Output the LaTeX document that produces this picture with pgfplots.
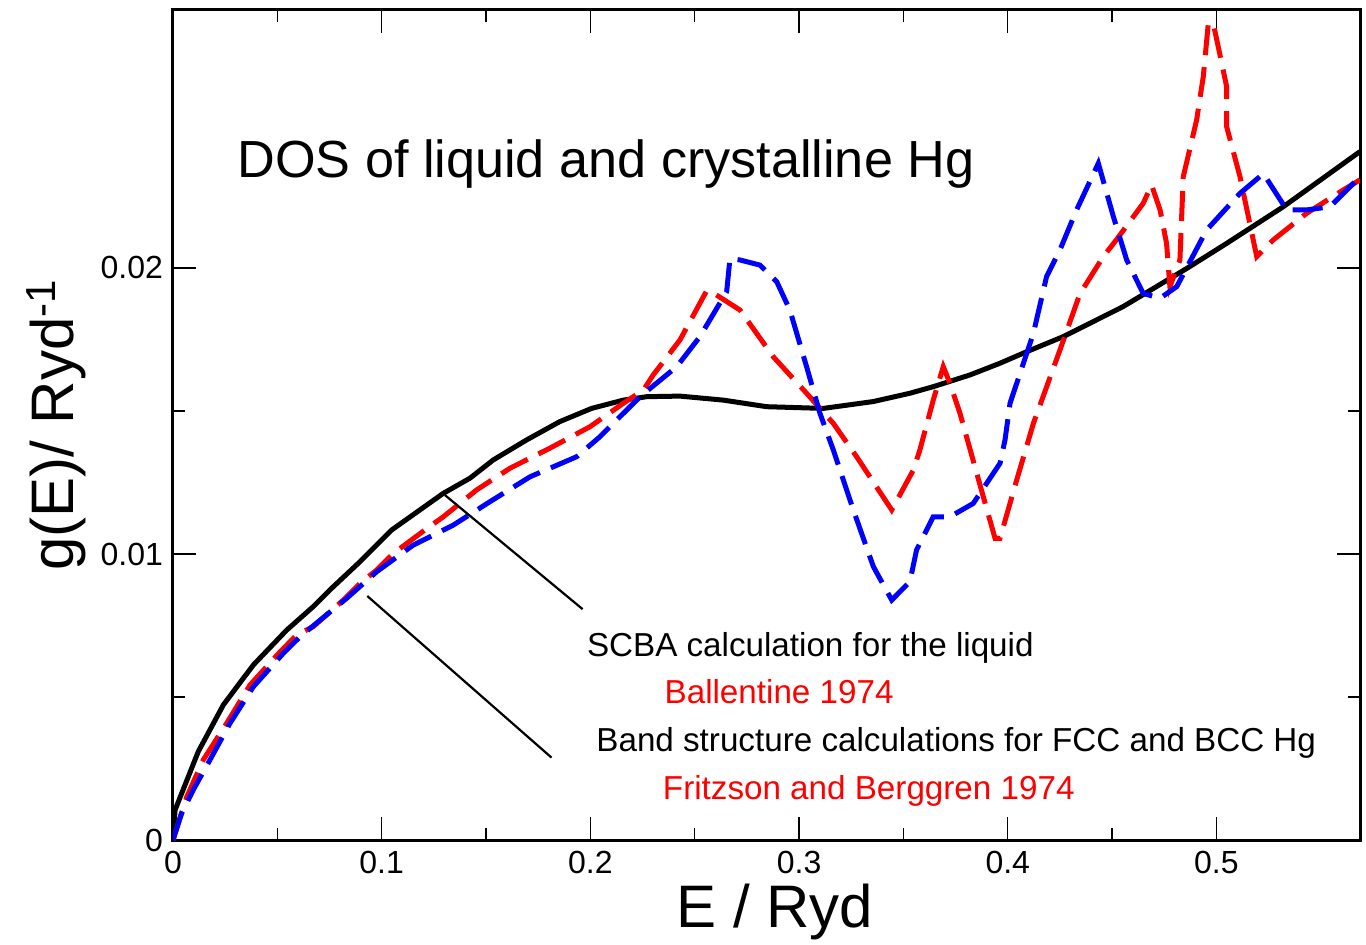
\documentclass[border=0pt]{standalone}
\usepackage{pgfplots}
\pgfplotsset{compat=1.18}
\usepackage{fontspec}
\setmainfont{Liberation Sans}

\begin{document}
\begin{tikzpicture}
  \begin{axis}[
    name=ax,
    scale only axis,
    width=593.5pt,
    height=415pt,
    xmin=0, xmax=0.5688,
    ymin=0, ymax=0.02902,
    xtick={0,0.1,0.2,0.3,0.4,0.5},
    xticklabels={0,0.1,0.2,0.3,0.4,0.5},
    ytick={0,0.01,0.02},
    yticklabels={0,0.01,0.02},
    minor x tick num=1,
    minor y tick num=1,
    tick align=inside,
    major tick length=11.5pt,
    minor tick length=6pt,
    every tick/.style={black, line width=0.7pt},
    axis line style={line width=1.5pt},
    tick label style={font=\fontsize{16}{19}\selectfont},
    xticklabel style={yshift=-2pt},
    yticklabel style={xshift=-1.5pt},
    xlabel={E / Ryd},
    ylabel={g(E)/ Ryd\textsuperscript{-1}},
    label style={font=\fontsize{30}{34}\selectfont},
    xlabel style={at={(axis description cs:0.507,-0.087)}, anchor=center},
    ylabel style={at={(axis description cs:-0.098,0.5)}, anchor=center},
    clip=true,
  ]
    % SCBA, liquid
    \addplot[black, line width=2.5pt, mark=none] coordinates {
      (0,0) (0.001,0.00105) (0.0121,0.00309) (0.0241,0.00472) (0.0385,0.00612)
      (0.0545,0.00734) (0.0672,0.00816) (0.076,0.0088) (0.0896,0.00973)
      (0.1048,0.01084) (0.1295,0.01212) (0.1423,0.01265) (0.1535,0.01329)
      (0.1695,0.01399) (0.1854,0.01463) (0.2006,0.01509) (0.2158,0.01538)
      (0.227,0.0155) (0.2429,0.01552) (0.2637,0.01538) (0.2845,0.01515)
      (0.3116,0.01509) (0.3356,0.01533) (0.3531,0.01562) (0.3643,0.01585)
      (0.3819,0.01626) (0.3963,0.01667) (0.409,0.01707) (0.4266,0.0176)
      (0.4553,0.01865) (0.4857,0.01998) (0.5049,0.02086) (0.532,0.02214)
      (0.5688,0.02407)
    };
    % band structure, red
    \addplot[red, line width=2.5pt, dash pattern=on 15pt off 6pt, mark=none] coordinates {
      (0,0) (0.0066,0.00151) (0.0145,0.0028) (0.0257,0.00408) (0.0369,0.00542)
      (0.0513,0.00658) (0.0593,0.00717) (0.0672,0.00746) (0.0816,0.00839)
      (0.0896,0.00897) (0.0976,0.00944) (0.1056,0.01002) (0.1216,0.01089)
      (0.1295,0.0113) (0.1455,0.01224) (0.1615,0.013) (0.1806,0.0137)
      (0.1998,0.01445) (0.2158,0.01527) (0.2254,0.01573) (0.2301,0.01626)
      (0.2429,0.01748) (0.2557,0.0192) (0.2573,0.0192) (0.2717,0.01853)
      (0.2876,0.0169) (0.3036,0.01562) (0.3164,0.01457) (0.3276,0.0134)
      (0.3444,0.01154) (0.3548,0.01294) (0.3579,0.01364) (0.3643,0.01538)
      (0.3691,0.01655) (0.3723,0.01597) (0.3771,0.01492) (0.3883,0.012)
      (0.3939,0.01055) (0.3963,0.01055) (0.4043,0.01259) (0.4123,0.01457)
      (0.425,0.01713) (0.4346,0.0191) (0.4458,0.0204) (0.4522,0.021)
      (0.4649,0.02226) (0.4689,0.0229) (0.473,0.02203) (0.4761,0.02086)
      (0.4777,0.01935) (0.4825,0.02028) (0.4841,0.02319) (0.4905,0.02517)
      (0.4937,0.02669) (0.4961,0.02855) (0.4985,0.02855) (0.5049,0.02634)
      (0.5049,0.02494) (0.5113,0.02319) (0.5193,0.0204) (0.5272,0.02098)
      (0.5432,0.02191) (0.5608,0.02273) (0.5688,0.02308)
    };
    % band structure, blue
    \addplot[blue, line width=2.5pt, dash pattern=on 15pt off 6pt, mark=none] coordinates {
      (0,0) (0.0041,0.00093) (0.0097,0.00175) (0.0177,0.0028) (0.0273,0.00408)
      (0.0385,0.00536) (0.0529,0.00653) (0.0609,0.00711) (0.0832,0.00845)
      (0.0976,0.00938) (0.1151,0.01031) (0.1343,0.01101) (0.1519,0.01183)
      (0.1711,0.0127) (0.1934,0.0134) (0.2046,0.0141) (0.2238,0.0155)
      (0.2414,0.01655) (0.2525,0.0176) (0.2653,0.01917) (0.2669,0.02033)
      (0.2717,0.02028) (0.2813,0.0201) (0.2893,0.01952) (0.2956,0.01853)
      (0.3036,0.01655) (0.31,0.01492) (0.3164,0.01364) (0.326,0.01154)
      (0.3356,0.00956) (0.3444,0.00839) (0.3531,0.00903) (0.3563,0.01014)
      (0.3643,0.0113) (0.3723,0.0113) (0.3835,0.01177) (0.3963,0.01317)
      (0.3987,0.01399) (0.4011,0.01527) (0.4123,0.01772) (0.4186,0.0197)
      (0.425,0.02063) (0.433,0.02203) (0.4434,0.02366) (0.4506,0.0218)
      (0.457,0.02028) (0.4649,0.01911) (0.473,0.01894) (0.481,0.01935)
      (0.4953,0.02133) (0.5113,0.02261) (0.5225,0.0233) (0.5337,0.02203)
      (0.5432,0.02203) (0.5544,0.02214) (0.5688,0.02319)
    };
    % pointer lines
    \addplot[black, line width=1.1pt, mark=none] coordinates {(0.1303,0.01206) (0.1963,0.00807)};
    \addplot[black, line width=1.1pt, mark=none] coordinates {(0.0931,0.00853) (0.1814,0.00288)};

    \node[anchor=base west, inner sep=0pt, font=\fontsize{26.1}{30}\selectfont]
      at (axis cs:0.0307,0.02318) {DOS of liquid and crystalline Hg};
    \node[anchor=base west, inner sep=0pt, font=\fontsize{16.6}{20}\selectfont]
      at (axis cs:0.1982,0.00641) {SCBA calculation for the liquid};
    \node[anchor=base west, inner sep=0pt, text=red, font=\fontsize{16.6}{20}\selectfont]
      at (axis cs:0.2354,0.00478) {Ballentine 1974};
    \node[anchor=base west, inner sep=0pt, font=\fontsize{16.6}{20}\selectfont]
      at (axis cs:0.2027,0.00309) {Band structure calculations for FCC and BCC Hg};
    \node[anchor=base west, inner sep=0pt, text=red, font=\fontsize{16.6}{20}\selectfont]
      at (axis cs:0.2346,0.0014) {Fritzson and Berggren 1974};
  \end{axis}
  \pgfresetboundingbox
  \useasboundingbox ([xshift=-86.5pt, yshift=-52pt]ax.south west)
    rectangle ([xshift=3pt, yshift=5pt]ax.north east);
\end{tikzpicture}
\end{document}
